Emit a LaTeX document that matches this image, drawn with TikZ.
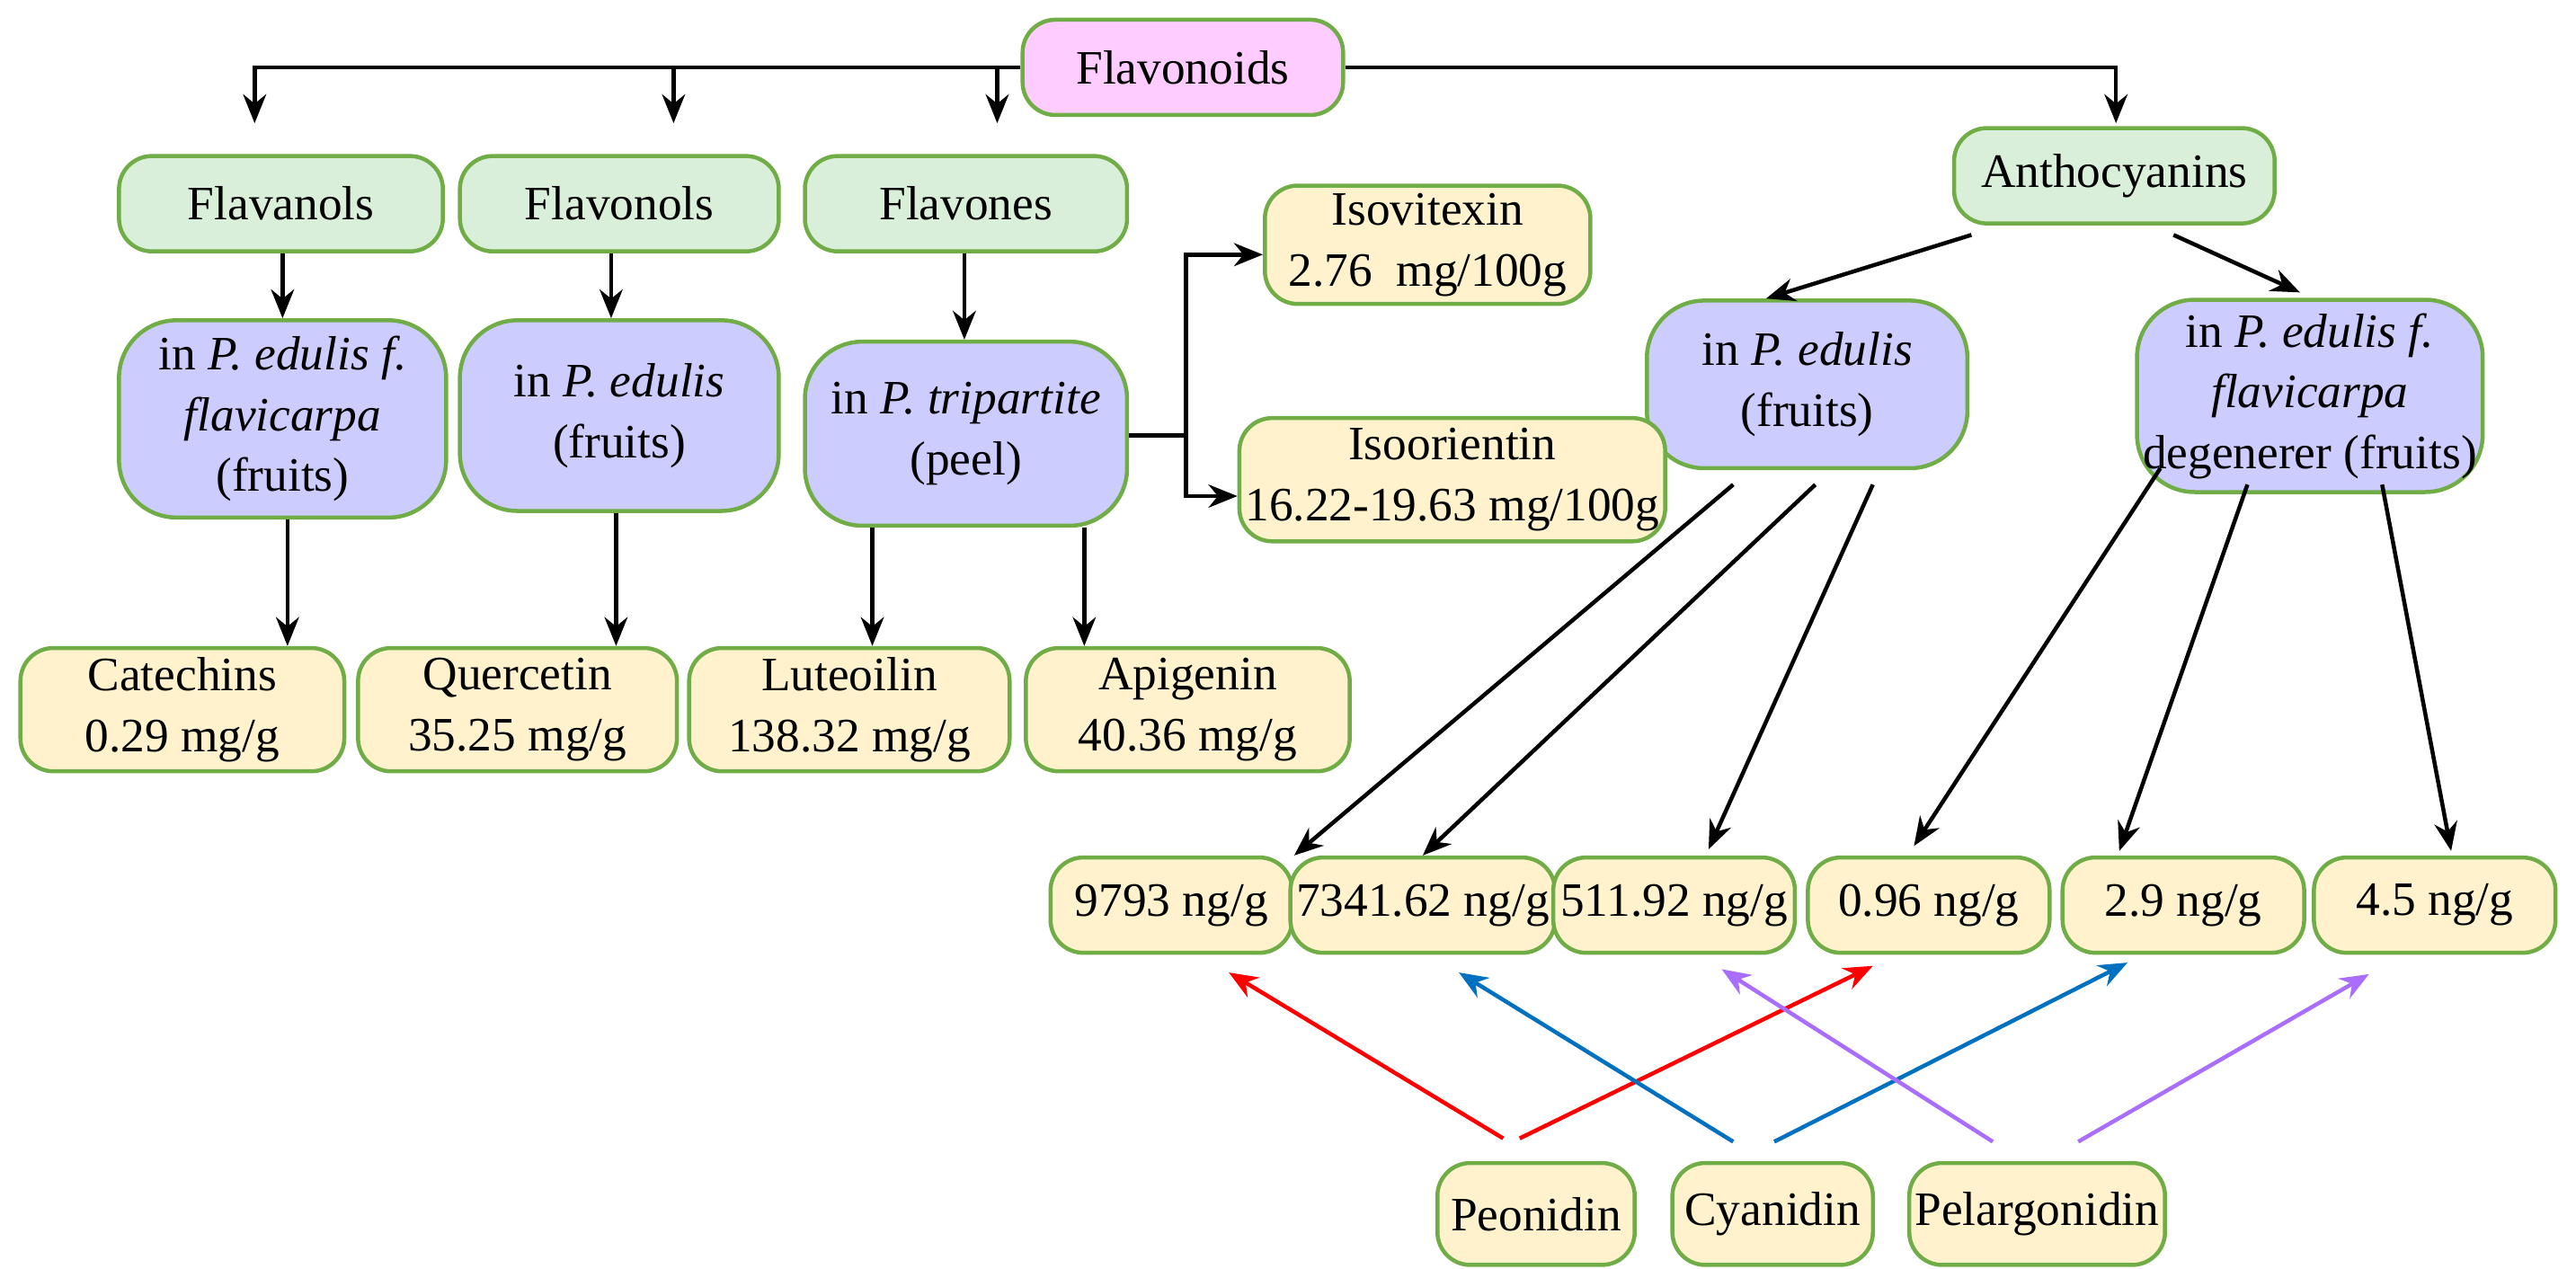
\documentclass[tikz,border=0pt]{standalone}
\usepackage{fontspec}
\setmainfont{Liberation Serif}
\usetikzlibrary{arrows.meta}
\definecolor{pinkf}{HTML}{FFCCFF}
\definecolor{greenf}{HTML}{DAEFD9}
\definecolor{purplef}{HTML}{CCCCFF}
\definecolor{yellowf}{HTML}{FFF2CC}
\definecolor{edge}{HTML}{70AD47}
\begin{document}
\begin{tikzpicture}[x=0.01cm,y=-0.01cm,
  box/.style={draw=edge,line width=0.7pt,rounded corners=0.2cm,align=center,inner sep=1pt,
    font=\fontsize{8.3}{10.5}\selectfont},
  pk/.style={box,fill=pinkf},
  gr/.style={box,fill=greenf},
  pu/.style={box,fill=purplef,rounded corners=0.35cm},
  ye/.style={box,fill=yellowf},
  arr/.style={-{Stealth[length=5pt,width=4pt]},line width=0.7pt},
  ar/.style={arr,black},
]
\useasboundingbox (0,0) rectangle (1568,772);
\node[pk,minimum width=1.95cm,minimum height=0.58cm] (flav) at (720,41) {Flavonoids};
\node[gr,minimum width=1.97cm,minimum height=0.58cm] (fa) at (171,124) {Flavanols};
\node[gr,minimum width=1.94cm,minimum height=0.58cm] (fo) at (377,124) {Flavonols};
\node[gr,minimum width=1.96cm,minimum height=0.58cm] (fe) at (588,124) {Flavones};
\node[gr,minimum width=1.95cm,minimum height=0.58cm] (an) at (1287,107) {Anthocyanins};
\node[pu,minimum width=1.99cm,minimum height=1.2cm] (p1) at (172,255) {in \textit{P. edulis f.}\\\textit{flavicarpa}\\(fruits)};
\node[pu,minimum width=1.94cm,minimum height=1.16cm] (p2) at (377,253) {in \textit{P. edulis}\\(fruits)};
\node[pu,minimum width=1.96cm,minimum height=1.12cm] (p3) at (588,264) {in \textit{P. tripartite}\\(peel)};
\node[pu,minimum width=1.95cm,minimum height=1.02cm] (p4) at (1100,234) {in \textit{P. edulis}\\(fruits)};
\node[pu,minimum width=1.97cm,minimum height=1.17cm] (p5) at (1406,241) {in \textit{P. edulis f.}\\\textit{flavicarpa}\\degenerer (fruits)};
\node[ye,minimum width=1.98cm,minimum height=0.72cm] (iv) at (869,149) {Isovitexin\\2.76\ \ mg/100g};
\node[ye,minimum width=2.32cm,minimum height=0.75cm] (io) at (884,292) {Isoorientin\\16.22-19.63 mg/100g};
\node[ye,minimum width=1.97cm,minimum height=0.75cm] (ca) at (111,432) {Catechins\\0.29 mg/g};
\node[ye,minimum width=1.94cm,minimum height=0.75cm] (qu) at (315,432) {Quercetin\\35.25 mg/g};
\node[ye,minimum width=1.95cm,minimum height=0.75cm] (lu) at (517,432) {Luteoilin\\138.32 mg/g};
\node[ye,minimum width=1.97cm,minimum height=0.75cm] (ap) at (723,432) {Apigenin\\40.36 mg/g};
\foreach \n/\x/\t in {v1/713/{9793 ng/g},v2/866/{7341.62 ng/g},v3/1019/{511.92 ng/g},v4/1174/{0.96 ng/g},v5/1329/{2.9 ng/g},v6/1482/{4.5 ng/g}}
  \node[ye,minimum width=1.47cm,minimum height=0.58cm] (\n) at (\x,551) {\t};
\node[ye,minimum width=1.2cm,minimum height=0.62cm] (pe) at (935,739) {Peonidin};
\node[ye,minimum width=1.22cm,minimum height=0.62cm] (cy) at (1079,739) {Cyanidin};
\node[ye,minimum width=1.55cm,minimum height=0.62cm] (pl) at (1240,739) {Pelargonidin};
% top connectors
\coordinate (t1) at (155,75); \coordinate (t2) at (410,75); \coordinate (t3) at (607,75); \coordinate (t4) at (1288,75);
\draw[ar] (flav.west) -| (t1);
\draw[ar] (410,41) -- (t2);
\draw[ar] (607,41) -- (t3);
\draw[ar] (flav.east) -| (t4);
\draw[ar] (fa.south -| 172,0) -- (p1.north -| 172,0);
\draw[ar] (fo.south -| 372,0) -- (p2.north -| 372,0);
\draw[ar] (fe.south -| 587,0) -- (p3.north -| 587,0);
\draw[ar] (p1.south -| 175,0) -- (ca.north -| 175,0);
\draw[ar] (p2.south -| 375,0) -- (qu.north -| 375,0);
\draw[ar] (p3.south -| 531,0) -- (lu.north -| 531,0);
\draw[ar] (p3.south -| 660,0) -- (ap.north -| 660,0);
\coordinate (j) at (722,265);
\draw[line width=0.7pt] (p3.east |- j) -- (j);
\draw[ar] (722,265) |- (iv.west |- 0,155);
\draw[ar] (722,265) |- (io.west |- 0,302);
\draw[ar] (1200,143) -- (p4.north -| 1075,0);
\draw[ar] (1323,143) -- (1400,178);
\draw[ar] (1055,295) -- (v1.north east);
\draw[ar] (1105,295) -- (v2.north);
\draw[ar] (1140,295) -- (1040,517);
\draw[ar] (1315,285) -- (1165,515);
\draw[ar] (1368,295) -- (1290,518);
\draw[ar] (1450,295) -- (1492,518);
\draw[arr,red] (915,693) -- (748,592);
\draw[arr,red] (925,693) -- (1140,588);
\draw[arr,color={rgb,255:red,0;green,112;blue,192}] (1055,695) -- (888,592);
\draw[arr,color={rgb,255:red,0;green,112;blue,192}] (1080,695) -- (1295,586);
\draw[arr,color={rgb,255:red,170;green,110;blue,255}] (1213,695) -- (1048,590);
\draw[arr,color={rgb,255:red,170;green,110;blue,255}] (1265,695) -- (1442,593);
\end{tikzpicture}
\end{document}
